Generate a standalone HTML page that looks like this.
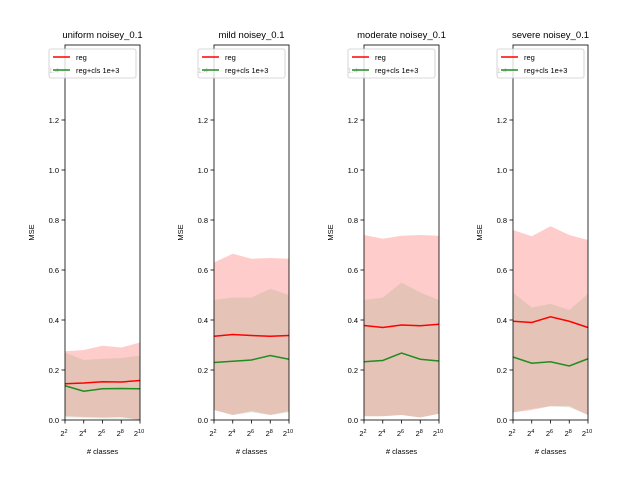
<!DOCTYPE html>
<html><head><meta charset="utf-8"><style>
body{margin:0;background:#fff}
svg{font-family:"Liberation Sans","DejaVu Sans",sans-serif}
</style></head><body>
<svg id="c" width="640" height="480"></svg>
<script>
const titles=["uniform noisey_0.1","mild noisey_0.1","moderate noisey_0.1","severe noisey_0.1"];
const xExps=[2,4,6,8,10];
const regMean=[[0.145,0.148,0.153,0.152,0.158],[0.335,0.342,0.338,0.335,0.338],[0.378,0.37,0.38,0.377,0.383],[0.395,0.39,0.413,0.395,0.37]];
const regUp=[[0.275,0.28,0.297,0.29,0.31],[0.63,0.665,0.645,0.648,0.645],[0.74,0.725,0.737,0.74,0.737],[0.76,0.735,0.775,0.74,0.72]];
const regLo=[[0.015,0.012,0.01,0.012,0.0],[0.04,0.02,0.035,0.02,0.035],[0.015,0.015,0.02,0.01,0.025],[0.03,0.04,0.055,0.055,0.02]];
const clsMean=[[0.137,0.115,0.125,0.126,0.125],[0.23,0.235,0.24,0.258,0.243],[0.233,0.238,0.268,0.243,0.236],[0.252,0.227,0.233,0.216,0.245]];
const clsUp=[[0.27,0.24,0.245,0.248,0.258],[0.48,0.49,0.49,0.525,0.5],[0.48,0.49,0.55,0.51,0.48],[0.51,0.45,0.465,0.44,0.505]];
const clsLo=[[0.01,0.008,0.005,0.005,0.0],[0.04,0.02,0.03,0.02,0.03],[0.015,0.015,0.02,0.01,0.025],[0.03,0.045,0.055,0.05,0.02]];
const yTicks=[0,0.2,0.4,0.6,0.8,1.0,1.2,1.4];
const lefts=[65,214,364,513], W=75, topY=45, botY=420;
const svg=document.getElementById('c');
const NS='http://www.w3.org/2000/svg';
function mk(t,a,p){const e=document.createElementNS(NS,t);for(const k in a)e.setAttribute(k,a[k]);(p||svg).appendChild(e);return e;}
const yS=v=>botY-(v/1.5)*(botY-topY);
titles.forEach((title,i)=>{
  const L=lefts[i];
  const xS=e=>L+(e-2)/8*W;
  const g=mk('g',{});
  
  
  function band(up,lo,fill,name){
    let d='M'+xExps.map((e,j)=>xS(e)+','+yS(up[j])).join('L');
    d+='L'+xExps.slice().reverse().map((e,k)=>{const j=4-k;return xS(e)+','+yS(lo[j]);}).join('L')+'Z';
    const p=mk('path',{d:d,fill:fill},g);
    
    
  }
  band(regUp[i],regLo[i],'rgba(255,0,0,0.2)','reg-band');
  band(clsUp[i],clsLo[i],'rgba(0,128,0,0.1)','cls-band');
  function line(m,col,name){
    const p=mk('polyline',{points:xExps.map((e,j)=>xS(e)+','+yS(m[j])).join(' '),fill:'none',stroke:col,'stroke-width':1.5},g);
    
    
  }
  line(regMean[i],'#ff0000','reg-line');
  line(clsMean[i],'#228b22','cls-line');
  mk('rect',{x:L,y:topY,width:W,height:botY-topY,fill:'none',stroke:'#000','stroke-width':0.8},g);
  yTicks.forEach(v=>{
    const y=yS(v);
    mk('line',{x1:L-3.5,x2:L,y1:y,y2:y,stroke:'#000','stroke-width':0.8},g);
    const t=mk('text',{x:L-6,y:y+3,'font-size':7.5,'text-anchor':'end',fill:'#000'},g);
    t.textContent=v.toFixed(1);
    
    
  });
  xExps.forEach(e=>{
    const x=xS(e);
    mk('line',{x1:x,x2:x,y1:botY,y2:botY+3.5,stroke:'#000','stroke-width':0.8},g);
    const t=mk('text',{x:x-1,y:botY+16,'font-size':7.5,'text-anchor':'middle'},g);
    t.textContent='2';
    const sup=mk('tspan',{dy:-3,'font-size':5.5},t);
    sup.textContent=String(e);
    
    
  });
  const tt=mk('text',{x:L+W/2,y:38,'font-size':9.5,'text-anchor':'middle'},g);
  tt.textContent=title;
  
  
  const xl=mk('text',{x:L+W/2,y:454,'font-size':7.5,'text-anchor':'middle'},g);
  xl.textContent='# classes';
  
  
  const yl=mk('text',{x:0,y:0,'font-size':7.5,'text-anchor':'middle',transform:'translate('+(L-31)+','+((topY+botY)/2)+') rotate(-90)'},g);
  yl.textContent='MSE';
  
  
  const lg=mk('g',{},g);
  
  
  mk('rect',{x:L-16,y:49,width:87,height:29,rx:2,fill:'rgba(255,255,255,0.8)',stroke:'#ccc','stroke-width':0.8},lg);
  mk('line',{x1:L-12,x2:L+5,y1:57,y2:57,stroke:'#ff0000','stroke-width':1.5},lg);
  mk('line',{x1:L-12,x2:L+5,y1:70,y2:70,stroke:'#228b22','stroke-width':1.5},lg);
  const t1=mk('text',{x:L+11,y:60,'font-size':7.5},lg);t1.textContent='reg';
  
  
  const t2=mk('text',{x:L+11,y:73,'font-size':7.5},lg);t2.textContent='reg+cls 1e+3';
  
  
});
</script>
</body></html>
